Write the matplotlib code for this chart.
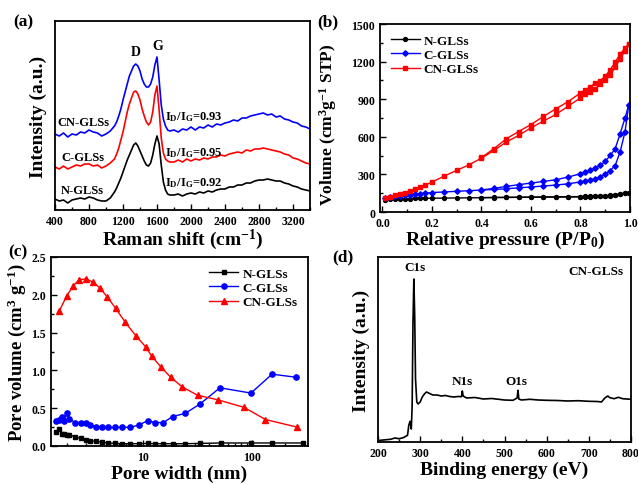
import numpy as np
import matplotlib
matplotlib.use('Agg')
import matplotlib.pyplot as plt
from matplotlib.ticker import MultipleLocator, FixedLocator, FixedFormatter, NullFormatter, LogLocator

plt.rcParams['font.family'] = 'Liberation Serif'
plt.rcParams['font.weight'] = 'bold'
plt.rcParams['mathtext.fontset'] = 'custom'
plt.rcParams['mathtext.rm'] = 'Liberation Serif:bold'
plt.rcParams['mathtext.bf'] = 'Liberation Serif:bold'
plt.rcParams['mathtext.it'] = 'Liberation Serif:bold'
plt.rcParams['axes.linewidth'] = 1.3

# (a) Raman spectra (arbitrary intensity, offset as plotted)
raman_x = np.concatenate([np.arange(400, 1101, 50), np.arange(1125, 1751, 25), np.arange(1800, 3401, 50)])
raman_cn = [76, 74, 77, 73, 76, 75, 78, 77, 80, 78, 77, 74, 76, 79, 84,
            88, 94, 101, 110, 118, 126, 134, 139, 144, 146, 144, 139, 131, 126, 123, 123, 126, 133, 145, 153, 130, 105, 91, 84, 80, 79,
            80, 78, 81, 80, 83, 80, 83, 82, 85, 83, 86, 85, 87, 88, 90, 89, 92, 92, 94, 95, 96, 97, 95, 96, 93, 94, 91, 90, 88, 87, 84, 83, 81]
raman_c = [43, 41, 44, 41, 43, 45, 44, 46, 46, 44, 45, 42, 44, 47, 51,
           56, 62, 70, 78, 88, 98, 106, 112, 118, 119, 116, 110, 101, 94, 88, 85, 88, 98, 115, 124, 100, 72, 57, 51, 49, 48,
           48, 50, 48, 51, 49, 51, 50, 52, 51, 53, 53, 55, 54, 56, 57, 58, 57, 60, 59, 61, 61, 62, 61, 60, 59, 58, 56, 55, 52, 51, 49, 47, 46]
raman_n = [11, 9, 10, 7, 10, 11, 12, 11, 13, 12, 10, 9, 9, 12, 18,
           22, 27, 32, 38, 44, 50, 55, 60, 65, 67, 64, 59, 54, 49, 45, 44, 47, 55, 66, 74, 66, 45, 28, 20, 16, 15,
           15, 16, 14, 16, 17, 16, 18, 17, 19, 18, 20, 21, 21, 23, 23, 25, 25, 27, 27, 29, 30, 30, 31, 30, 29, 29, 27, 26, 24, 23, 21, 20, 19]
ratios = ['0.93', '0.95', '0.92']

# (b) N2 isotherms
ads_p = [0.01, 0.03, 0.05, 0.07, 0.09, 0.11, 0.13, 0.15, 0.17, 0.2, 0.25, 0.3, 0.35, 0.4, 0.45, 0.5,
         0.55, 0.6, 0.65, 0.7, 0.75, 0.8, 0.82, 0.84, 0.86, 0.88, 0.9, 0.92, 0.94, 0.96, 0.98, 0.995]
ads_n = [92, 100, 103, 105, 106, 107, 108, 109, 109, 110, 111, 112, 113, 114, 115, 116,
         117, 118, 118, 119, 120, 121, 122, 123, 124, 125, 127, 130, 134, 140, 148, 155]
ads_c = [110, 118, 124, 130, 135, 139, 143, 147, 150, 155, 160, 165, 170, 175, 180, 185,
         193, 200, 207, 215, 225, 240, 248, 257, 266, 280, 300, 330, 370, 480, 640, 855]
ads_cn = [114, 122, 133, 143, 154, 165, 180, 197, 213, 239, 287, 332, 377, 430, 491, 558,
          611, 672, 725, 778, 844, 911, 942, 960, 983, 1022, 1054, 1094, 1155, 1221, 1288, 1340]
des_p = [0.995, 0.98, 0.96, 0.94, 0.92, 0.9, 0.88, 0.86, 0.84, 0.82, 0.8, 0.75, 0.7, 0.65, 0.6, 0.55, 0.5, 0.45, 0.4]
des_n = [155, 150, 143, 137, 132, 129, 127, 126, 125, 124, 123, 122, 121, 120, 119, 118, 117, 116, 115]
des_c = [855, 750, 624, 504, 451, 404, 372, 350, 332, 318, 305, 279, 257, 244, 231, 218, 204, 188, 176]
des_cn = [1340, 1306, 1261, 1195, 1136, 1083, 1049, 1030, 1000, 975, 950, 881, 823, 762, 698, 642, 584, 505, 435]

# (c) pore size distribution
pw_n = [1.59, 1.71, 1.82, 1.90, 2.0, 2.11, 2.38, 2.68, 2.98, 3.28, 3.70, 4.23, 4.77, 5.57, 6.46, 7.60,
        9.25, 11.0, 12.9, 15.4, 18.7, 24.3, 33.3, 52, 99, 153, 296]
pv_n = [0.19, 0.22, 0.16, 0.16, 0.15, 0.15, 0.12, 0.10, 0.08, 0.07, 0.06, 0.05, 0.04, 0.035, 0.03, 0.03,
        0.03, 0.035, 0.03, 0.03, 0.03, 0.03, 0.035, 0.04, 0.04, 0.04, 0.04]
pw_c = [1.59, 1.71, 1.82, 1.90, 2.0, 2.11, 2.38, 2.68, 2.98, 3.28, 3.70, 4.23, 4.77, 5.57, 6.46, 7.60,
        9.25, 11.0, 12.9, 15.4, 18.7, 24.3, 33.3, 50.8, 97.9, 153, 252]
pv_c = [0.335, 0.35, 0.39, 0.335, 0.43, 0.357, 0.31, 0.31, 0.31, 0.28, 0.255, 0.25, 0.245, 0.245, 0.25, 0.245,
        0.28, 0.335, 0.31, 0.31, 0.39, 0.43, 0.555, 0.77, 0.70, 0.95, 0.91]
pw_cn = [1.71, 2.0, 2.29, 2.60, 2.98, 3.45, 4.03, 4.70, 5.62, 6.84, 8.57, 10.6, 12.0, 14.5, 17.9, 23.0,
         31.8, 49, 85, 133, 259]
pv_cn = [1.79, 1.99, 2.12, 2.20, 2.21, 2.17, 2.09, 1.97, 1.82, 1.64, 1.46, 1.31, 1.19, 1.05, 0.91, 0.78,
         0.67, 0.61, 0.51, 0.35, 0.25]

# (d) XPS survey of CN-GLSs
xps_x = [200, 230, 240, 250, 260, 270, 273, 276, 279, 281, 283, 285, 287, 289, 292, 295, 300, 305, 310, 315,
         320, 330, 340, 350, 360, 370, 380, 390, 398, 400, 402, 410, 430, 450, 470, 500, 520, 530, 532, 534,
         540, 560, 580, 600, 625, 650, 675, 700, 720, 730, 738, 745, 750, 760, 770, 780, 790, 800]
xps_y = [1.5, 2.7, 4, 3.3, 4.3, 6.7, 16.7, 20.7, 13, 36.7, 120, 163, 127, 63, 40, 38, 40, 45, 48, 50,
         49, 47, 47, 46, 46.5, 45.5, 45, 45.5, 45.3, 51, 46, 44, 44.5, 43, 43.5, 42, 41.7, 44, 51.7, 43,
         42, 42.7, 42, 41.7, 41.5, 41, 41.3, 40.7, 40.5, 40, 44, 46, 44.3, 43.3, 44.7, 43.3, 43, 42.7]
xps_peaks = ['C1s', 'N1s', 'O1s']
xps_peak_pos = [288, 399, 529]

labels = ['N-GLSs', 'C-GLSs', 'CN-GLSs']
colors = ['black', 'blue', 'red']

fig = plt.figure(figsize=(6.38, 4.85), dpi=100)
W, H = 638, 485


def add_ax(l, t, r, b):
    return fig.add_axes([l / W, 1 - b / H, (r - l) / W, (b - t) / H])


def style(ax):
    ax.tick_params(which='both', direction='in', labelsize=8.5, width=1)
    ax.tick_params(which='major', length=4)
    ax.tick_params(which='minor', length=2)
    for lb in ax.get_xticklabels() + ax.get_yticklabels():
        lb.set_fontweight('bold')


lab_fs = 14

# ---- (a)
ax = add_ax(55, 22, 310, 211)
ax.plot(raman_x, raman_n, color='black', lw=1.2)
ax.plot(raman_x, raman_c, color='red', lw=1.2)
ax.plot(raman_x, raman_cn, color='blue', lw=1.2)
ax.set_xlim(400, 3400)
ax.set_ylim(0, 189)
ax.xaxis.set_major_locator(MultipleLocator(400))
ax.xaxis.set_minor_locator(MultipleLocator(200))
ax.set_yticks([])
style(ax)
ax.set_xlabel('Raman shift (cm$^{-1}$)', fontsize=lab_fs, fontweight='bold', labelpad=0)
ax.set_ylabel('Intensity (a.u.)', fontsize=lab_fs, fontweight='bold', labelpad=6)
ax.text(1344, 158, 'D', fontsize=10, ha='center', va='center')
ax.text(1604, 164, 'G', fontsize=10, ha='center', va='center')
for name, yy in zip(['CN-GLSs', 'C-GLSs', 'N-GLSs'], [88, 53, 20]):
    ax.text(425 if name == 'CN-GLSs' else 470, yy, name, fontsize=9, ha='left', va='center')
for r, yy in zip(ratios, [94, 58, 28]):
    ax.text(1690, yy, r'$\mathrm{I_D/I_G}$=' + r, fontsize=9, ha='left', va='center')
fig.text(23 / W, 1 - 22 / H, '(a)', fontsize=12.5, ha='center', va='center')

# ---- (b)
ax = add_ax(380, 25, 630, 213)
mk = ['o', 'D', 's']
for lab, col, m, a, d in zip(labels, colors, mk, [ads_n, ads_c, ads_cn], [des_n, des_c, des_cn]):
    ax.plot(ads_p, a, color=col, marker=m, ms=2.8, lw=1, label=lab)
    ax.plot(des_p, d, color=col, marker=m, ms=2.8, lw=1)
ax.set_xlim(-0.01, 1.0)
ax.set_ylim(0, 1500)
ax.xaxis.set_major_locator(MultipleLocator(0.2))
ax.xaxis.set_minor_locator(MultipleLocator(0.1))
ax.yaxis.set_major_locator(MultipleLocator(300))
ax.yaxis.set_minor_locator(MultipleLocator(150))
ax.xaxis.set_major_formatter(matplotlib.ticker.FormatStrFormatter('%.1f'))
style(ax)
ax.set_xlabel('Relative pressure (P/P$_0$)', fontsize=lab_fs, fontweight='bold', labelpad=0)
ax.set_ylabel('Volume (cm$^3$g$^{-1}$ STP)', fontsize=12.5, fontweight='bold', labelpad=2)
ax.yaxis.set_label_coords(-0.165, 0.47)
ax.legend(loc='upper left', frameon=False, prop={'size': 9.5, 'weight': 'bold'},
          handlelength=2.2, handletextpad=0.3, labelspacing=0.15, borderaxespad=0.4)
fig.text(328 / W, 1 - 22 / H, '(b)', fontsize=12.5, ha='center', va='center')

# ---- (c)
ax = add_ax(51, 258, 308, 447)
ax.plot(pw_n, pv_n, color='black', marker='s', ms=3.2, lw=1, label=labels[0])
ax.plot(pw_c, pv_c, color='blue', marker='o', ms=3.8, lw=1, label=labels[1])
ax.plot(pw_cn, pv_cn, color='red', marker='^', ms=4, lw=1, label=labels[2])
ax.set_xscale('log')
ax.set_xlim(1.43, 327)
ax.set_ylim(0, 2.5)
ax.xaxis.set_major_locator(FixedLocator([10, 100]))
ax.xaxis.set_major_formatter(FixedFormatter(['10', '100']))
ax.xaxis.set_minor_locator(LogLocator(base=10, subs=np.arange(2, 10)))
ax.xaxis.set_minor_formatter(NullFormatter())
ax.yaxis.set_major_locator(MultipleLocator(0.5))
ax.yaxis.set_minor_locator(MultipleLocator(0.25))
ax.yaxis.set_major_formatter(matplotlib.ticker.FormatStrFormatter('%.1f'))
style(ax)
ax.set_xlabel('Pore width (nm)', fontsize=lab_fs, fontweight='bold', labelpad=1)
ax.set_ylabel('Pore volume (cm$^3$ g$^{-1}$)', fontsize=13.5, fontweight='bold', labelpad=2)
ax.legend(loc='upper right', frameon=False, prop={'size': 9.5, 'weight': 'bold'},
          handlelength=2.2, handletextpad=0.3, labelspacing=0.15, borderaxespad=0.4)
fig.text(18 / W, 1 - 252 / H, '(c)', fontsize=12.5, ha='center', va='center')

# ---- (d)
ax = add_ax(378, 258, 631, 443)
ax.plot(xps_x, xps_y, color='black', lw=1.2)
ax.set_xlim(200, 800)
ax.set_ylim(0, 185)
ax.xaxis.set_major_locator(MultipleLocator(100))
ax.xaxis.set_minor_locator(MultipleLocator(50))
ax.set_yticks([])
style(ax)
ax.set_xlabel('Binding energy (eV)', fontsize=lab_fs, fontweight='bold', labelpad=1)
ax.set_ylabel('Intensity (a.u.)', fontsize=lab_fs, fontweight='bold', labelpad=6)
for name, xx, yy in zip(xps_peaks, xps_peak_pos, [175, 61, 61]):
    ax.text(xx, yy, name, fontsize=9.5, ha='center', va='center')
ax.text(783, 171, 'CN-GLSs', fontsize=9.5, ha='right', va='center')
fig.text(343 / W, 1 - 257 / H, '(d)', fontsize=12.5, ha='center', va='center')

fig.savefig('out.png', dpi=100)
